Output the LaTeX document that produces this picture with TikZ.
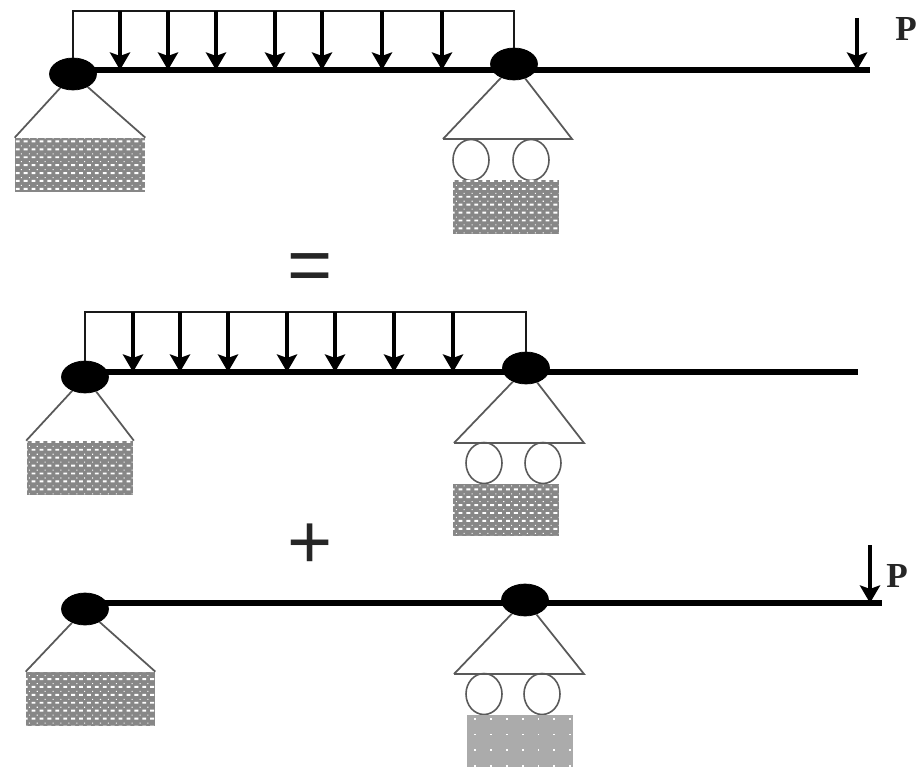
\documentclass[tikz,border=0pt]{standalone}
\usepackage{amsmath, amssymb}
\usepackage{fontspec}
\newfontfamily\labelfont{Liberation Serif}
\newfontfamily\signfont{Liberation Sans}
\usetikzlibrary{arrows.meta,shapes,positioning,patterns}
\pgfdeclarepatternformonly{grounddots}{\pgfqpoint{-1pt}{-1pt}}{\pgfqpoint{3.5pt}{3.5pt}}{\pgfqpoint{4.5pt}{4.5pt}}{
    \pgfpathrectangle{\pgfqpoint{0pt}{0pt}}{\pgfqpoint{2.2pt}{1.1pt}}
    \pgfpathrectangle{\pgfqpoint{2.9pt}{2.2pt}}{\pgfqpoint{0.6pt}{0.6pt}}
    \pgfusepath{fill}
}
\pgfdeclarepatternformonly{groundspots}{\pgfqpoint{-1pt}{-1pt}}{\pgfqpoint{8pt}{8pt}}{\pgfqpoint{9pt}{9pt}}{
    \pgfpathrectangle{\pgfqpoint{0pt}{0pt}}{\pgfqpoint{1pt}{1pt}}
    \pgfusepath{fill}
}

\begin{document}
\begin{tikzpicture}[x=0.02cm,y=-0.02cm,>={Stealth[length=10pt,width=11.5pt,inset=2pt]},
    pin/.style={draw, ellipse, fill=black, inner sep=0pt, minimum width=0.94cm, minimum height=0.64cm},
    beam/.style={line width=2.9pt, black},
    load/.style={line width=1.7pt, black!90},
    force/.style={->, line width=2pt, black},
    strut/.style={line width=1pt, black!65},
    roller/.style={draw=black!65, ellipse, line width=0.9pt, inner sep=0pt, minimum width=0.72cm, minimum height=0.82cm},
    ground/.style={inner sep=0pt, preaction={fill=black!47}, pattern=grounddots, pattern color=white},
    groundplain/.style={inner sep=0pt, preaction={fill=black!33}, pattern=groundspots, pattern color=white},
    forcelabel/.style={font=\labelfont\fontsize{20}{20}\selectfont\bfseries, text=black!85},
    sign/.style={font=\signfont\fontsize{44}{44}\selectfont, text=black!85}]
            \useasboundingbox (0,0) rectangle (920,767);

            \node[pin] (pinA1) at (73, 74) {};
            \node[pin] (pinB1) at (514, 64) {};
            \coordinate (end1) at (870, 70);
            \coordinate (q1) at (514, 11);
            \draw[beam] (pinA1 |- end1) -- (end1);
            \draw[load] (pinA1) -- (pinA1 |- q1) -- (q1) -- (pinB1);
            \foreach \x in {120,168,216,275,322,382,442} {
                \coordinate (t) at (\x, 11);
                \coordinate (b) at (\x, 70);
                \draw[force] (t) -- (b);
            }
            \coordinate (ptop1) at (857, 18);
            \draw[force] (ptop1) -- (ptop1 |- end1);
            \node[forcelabel] (p1) at (906, 29) {P};

            \node[ground, minimum width=2.6cm, minimum height=1.08cm] (gA1) at (80, 165) {};
            \draw[strut] (gA1.north west) -- (pinA1) -- (gA1.north east);
            \coordinate (sl1) at (443, 139);
            \coordinate (sr1) at (572, 139);
            \draw[strut] (sl1) -- (pinB1) -- (sr1) -- (sl1);
            \node[roller] (r1a) at (471, 160) {};
            \node[roller] (r1b) at (531, 160) {};
            \node[ground, minimum width=2.14cm, minimum height=1.08cm] (gB1) at (506, 207) {};

            \node[sign] (eq) at (310, 273) {=};

            \node[pin] (pinA2) at (85, 377) {};
            \node[pin] (pinB2) at (526, 368) {};
            \coordinate (end2) at (858, 372);
            \coordinate (q2) at (526, 312);
            \draw[beam] (pinA2 |- end2) -- (end2);
            \draw[load] (pinA2) -- (pinA2 |- q2) -- (q2) -- (pinB2);
            \foreach \x in {133,180,228,287,335,394,453} {
                \coordinate (t) at (\x, 312);
                \coordinate (b) at (\x, 372);
                \draw[force] (t) -- (b);
            }

            \node[ground, minimum width=2.14cm, minimum height=1.08cm] (gA2) at (80, 468) {};
            \draw[strut] (gA2.north west) -- (pinA2) -- (gA2.north east);
            \coordinate (sl2) at (454, 443);
            \coordinate (sr2) at (584, 443);
            \draw[strut] (sl2) -- (pinB2) -- (sr2) -- (sl2);
            \node[roller] (r2a) at (484, 463) {};
            \node[roller] (r2b) at (543, 463) {};
            \node[ground, minimum width=2.14cm, minimum height=1.06cm] (gB2) at (506, 510) {};

            \node[sign] (plus) at (310, 546) {+};

            \node[pin] (pinA3) at (85, 609) {};
            \node[pin] (pinB3) at (525, 600) {};
            \coordinate (end3) at (882, 603);
            \draw[beam] (pinA3 |- end3) -- (end3);
            \coordinate (ptop3) at (870, 545);
            \draw[force] (ptop3) -- (ptop3 |- end3);
            \node[forcelabel] (p3) at (897, 576) {P};

            \node[ground, minimum width=2.58cm, minimum height=1.08cm] (gA3) at (90.5, 699) {};
            \draw[strut] (gA3.north west) -- (pinA3) -- (gA3.north east);
            \coordinate (sl3) at (454, 674);
            \coordinate (sr3) at (584, 674);
            \draw[strut] (sl3) -- (pinB3) -- (sr3) -- (sl3);
            \node[roller] (r3a) at (484, 694) {};
            \node[roller] (r3b) at (542, 694) {};
            \node[groundplain, minimum width=2.12cm, minimum height=1.04cm] (gB3) at (520, 741) {};
\end{tikzpicture}
\end{document}
